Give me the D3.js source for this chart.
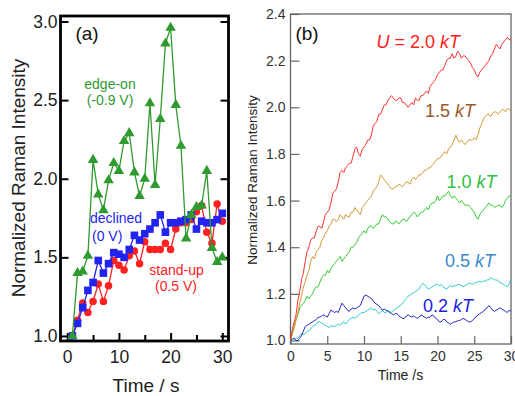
<!DOCTYPE html>
<html>
<head>
<meta charset="utf-8">
<script src="https://cdn.jsdelivr.net/npm/d3@7"></script>
<style>
  body { margin: 0; background: #fff; }
  svg { display: block; font-family: "Liberation Sans", Arial, sans-serif; }
</style>
</head>
<body>
<svg id="chart" width="515" height="396"></svg>
<script>
// ---- panel (a): measured points, one per second ----
const timeA = [1, 2, 3, 4, 5, 6, 7, 8, 9, 10, 11, 12, 13, 14, 15,
               16, 17, 18, 19, 20, 21, 22, 23, 24, 25, 26, 27, 28, 29, 30];
const edgeOn = [1.00, 1.40, 1.41, 1.51, 2.12, 1.90, 1.80, 1.99, 2.10, 2.05,
                2.24, 2.29, 2.04, 1.89, 2.00, 2.48, 1.96, 2.38, 2.86, 2.96,
                2.47, 2.21, 1.62, 1.77, 1.82, 1.83, 2.05, 1.56, 1.47, 1.50];
const declined = [1.00, 1.08, 1.18, 1.29, 1.34, 1.48, 1.40, 1.46, 1.53, 1.52,
                  1.50, 1.55, 1.64, 1.61, 1.65, 1.68, 1.72, 1.77, 1.66, 1.72,
                  1.72, 1.73, 1.74, 1.77, 1.68, 1.73, 1.72, 1.72, 1.74, 1.78];
const standUp = [1.00, 1.10, 1.21, 1.15, 1.22, 1.33, 1.22, 1.32, 1.48, 1.45,
                 1.42, 1.51, 1.54, 1.46, 1.60, 1.55, 1.55, 1.55, 1.59, 1.55,
                 1.68, 1.72, 1.72, 1.74, 1.79, 1.83, 1.66, 1.59, 1.84, 1.73];
const ticksAY = [1.0, 1.5, 2.0, 2.5, 3.0];
const ticksAX = [0, 10, 20, 30];
const minorAX = [5, 15, 25];

// ---- panel (b): simulated traces, read every 0.25 s (8 values = 2 s per row) ----
const timeB = d3.range(0, 30.001, 0.25);
const u20 = [1.00, 1.05, 1.08, 1.11, 1.17, 1.21, 1.26, 1.29,
             1.34, 1.38, 1.40, 1.43, 1.44, 1.44, 1.47, 1.49,
             1.49, 1.48, 1.51, 1.54, 1.55, 1.56, 1.59, 1.63,
             1.64, 1.65, 1.68, 1.72, 1.73, 1.72, 1.74, 1.75,
             1.76, 1.76, 1.79, 1.82, 1.83, 1.80, 1.79, 1.82,
             1.83, 1.84, 1.86, 1.86, 1.88, 1.92, 1.93, 1.94,
             1.97, 1.97, 1.99, 2.01, 2.01, 2.03, 2.04, 2.05,
             2.04, 2.03, 2.03, 2.04, 2.04, 2.02, 2.02, 2.01,
             2.00, 2.01, 2.02, 2.01, 2.04, 2.03, 2.03, 2.05,
             2.05, 2.06, 2.07, 2.06, 2.09, 2.10, 2.11, 2.12,
             2.14, 2.15, 2.16, 2.16, 2.18, 2.20, 2.21, 2.21,
             2.23, 2.21, 2.22, 2.24, 2.23, 2.21, 2.22, 2.22,
             2.21, 2.20, 2.19, 2.17, 2.16, 2.14, 2.13, 2.15,
             2.16, 2.17, 2.18, 2.19, 2.20, 2.22, 2.23, 2.25,
             2.27, 2.26, 2.25, 2.27, 2.28, 2.29, 2.30, 2.29,
             2.29];
const u15 = [1.00, 1.03, 1.05, 1.09, 1.12, 1.16, 1.19, 1.23,
             1.25, 1.28, 1.30, 1.34, 1.36, 1.35, 1.38, 1.39,
             1.40, 1.43, 1.44, 1.46, 1.47, 1.49, 1.50, 1.52,
             1.52, 1.51, 1.52, 1.54, 1.53, 1.52, 1.54, 1.53,
             1.53, 1.55, 1.55, 1.57, 1.56, 1.55, 1.54, 1.57,
             1.58, 1.59, 1.60, 1.61, 1.62, 1.64, 1.65, 1.66,
             1.68, 1.71, 1.70, 1.69, 1.68, 1.67, 1.66, 1.65,
             1.65, 1.66, 1.66, 1.67, 1.665, 1.66, 1.67, 1.68,
             1.68, 1.67, 1.69, 1.70, 1.69, 1.70, 1.71, 1.71,
             1.72, 1.73, 1.73, 1.74, 1.74, 1.75, 1.76, 1.77,
             1.78, 1.78, 1.79, 1.80, 1.81, 1.80, 1.82, 1.83,
             1.84, 1.86, 1.88, 1.86, 1.85, 1.86, 1.85, 1.84,
             1.85, 1.86, 1.86, 1.86, 1.87, 1.86, 1.88, 1.91,
             1.93, 1.95, 1.96, 1.97, 1.97, 1.96, 1.975, 1.98,
             1.98, 1.97, 1.98, 1.99, 1.99, 1.98, 1.995, 1.99,
             1.985];
const u10 = [1.00, 1.03, 1.06, 1.09, 1.11, 1.14, 1.15, 1.16,
             1.17, 1.19, 1.18, 1.19, 1.20, 1.22, 1.23, 1.23,
             1.25, 1.27, 1.28, 1.28, 1.30, 1.29, 1.31, 1.32,
             1.33, 1.34, 1.35, 1.36, 1.34, 1.35, 1.36, 1.37,
             1.38, 1.40, 1.40, 1.41, 1.42, 1.44, 1.45, 1.46,
             1.47, 1.46, 1.48, 1.49, 1.49, 1.48, 1.49, 1.50,
             1.50, 1.52, 1.54, 1.53, 1.53, 1.52, 1.51, 1.50,
             1.50, 1.51, 1.51, 1.50, 1.51, 1.52, 1.52, 1.51,
             1.52, 1.53, 1.54, 1.55, 1.545, 1.53, 1.54, 1.55,
             1.55, 1.56, 1.57, 1.56, 1.58, 1.59, 1.59, 1.60,
             1.62, 1.60, 1.61, 1.62, 1.62, 1.63, 1.64, 1.62,
             1.61, 1.62, 1.61, 1.60, 1.59, 1.60, 1.59, 1.58,
             1.58, 1.58, 1.57, 1.56, 1.55, 1.53, 1.52, 1.54,
             1.55, 1.56, 1.57, 1.58, 1.59, 1.58, 1.58, 1.57,
             1.575, 1.58, 1.58, 1.57, 1.58, 1.60, 1.61, 1.62,
             1.62];
const u05 = [1.00, 0.995, 1.00, 1.01, 1.01, 1.02, 1.03, 1.025,
             1.03, 1.04, 1.04, 1.05, 1.06, 1.065, 1.07, 1.08,
             1.08, 1.075, 1.07, 1.065, 1.06, 1.055, 1.065, 1.06,
             1.06, 1.065, 1.07, 1.065, 1.075, 1.08, 1.07, 1.08,
             1.09, 1.095, 1.10, 1.095, 1.10, 1.11, 1.115, 1.12,
             1.12, 1.125, 1.13, 1.135, 1.14, 1.13, 1.135, 1.125,
             1.115, 1.12, 1.13, 1.12, 1.12, 1.13, 1.125, 1.12,
             1.13, 1.135, 1.14, 1.145, 1.15, 1.16, 1.17, 1.18,
             1.19, 1.195, 1.20, 1.205, 1.21, 1.215, 1.22, 1.235,
             1.245, 1.24, 1.23, 1.22, 1.225, 1.23, 1.235, 1.24,
             1.24, 1.235, 1.24, 1.23, 1.225, 1.22, 1.23, 1.235,
             1.23, 1.235, 1.235, 1.24, 1.24, 1.235, 1.23, 1.235,
             1.24, 1.245, 1.245, 1.24, 1.245, 1.25, 1.25, 1.255,
             1.25, 1.255, 1.255, 1.26, 1.26, 1.27, 1.265, 1.26,
             1.26, 1.255, 1.25, 1.245, 1.24, 1.235, 1.23, 1.245,
             1.26];
const u02 = [1.00, 1.005, 1.01, 1.00, 1.00, 1.01, 1.02, 1.04,
             1.06, 1.065, 1.07, 1.075, 1.08, 1.085, 1.09, 1.10,
             1.10, 1.105, 1.11, 1.105, 1.10, 1.115, 1.13, 1.125,
             1.12, 1.125, 1.12, 1.14, 1.16, 1.15, 1.14, 1.13,
             1.125, 1.135, 1.14, 1.135, 1.14, 1.145, 1.15, 1.17,
             1.19, 1.195, 1.19, 1.185, 1.18, 1.17, 1.16, 1.155,
             1.15, 1.14, 1.13, 1.135, 1.13, 1.125, 1.12, 1.115,
             1.11, 1.115, 1.115, 1.105, 1.10, 1.095, 1.095, 1.105,
             1.11, 1.105, 1.10, 1.105, 1.10, 1.095, 1.10, 1.11,
             1.105, 1.10, 1.095, 1.10, 1.10, 1.11, 1.105, 1.095,
             1.09, 1.08, 1.08, 1.09, 1.09, 1.08, 1.075, 1.07,
             1.075, 1.08, 1.08, 1.085, 1.085, 1.09, 1.095, 1.09,
             1.085, 1.08, 1.08, 1.085, 1.095, 1.10, 1.11, 1.115,
             1.12, 1.125, 1.135, 1.14, 1.15, 1.14, 1.13, 1.125,
             1.13, 1.135, 1.14, 1.135, 1.13, 1.125, 1.12, 1.13,
             1.125];
const ticksBY = [1.0, 1.2, 1.4, 1.6, 1.8, 2.0, 2.2, 2.4];
const ticksBX = [0, 5, 10, 15, 20, 25, 30];

const svg = d3.select('#chart');

// ================= panel (a) =================
const xa = d3.scaleLinear().domain([-1.3, 31.2]).range([60.5, 228.5]);
const ya = d3.scaleLinear().domain([0.968, 3.035]).range([341, 16]);

const ga = svg.append('g');

ga.append('g')
    .attr('transform', 'translate(60.5,0)')
    .call(d3.axisLeft(ya).tickValues(ticksAY).tickFormat(d3.format('.1f'))
        .tickSize(-8).tickPadding(3))
    .call(g => g.select('.domain').remove())
    .call(g => g.selectAll('line').attr('stroke', '#000').attr('stroke-width', 2))
    .call(g => g.selectAll('text').attr('font-size', 17.5).attr('fill', '#222'));

ga.append('g')
    .attr('transform', 'translate(228.5,0)')
    .call(d3.axisRight(ya).tickValues(ticksAY).tickFormat('').tickSize(-8))
    .call(g => g.select('.domain').remove())
    .call(g => g.selectAll('line').attr('stroke', '#000').attr('stroke-width', 2));

ga.append('g')
    .attr('transform', 'translate(0,341)')
    .call(d3.axisBottom(xa).tickValues(ticksAX).tickSize(-8).tickPadding(10))
    .call(g => g.select('.domain').remove())
    .call(g => g.selectAll('line').attr('stroke', '#000').attr('stroke-width', 2))
    .call(g => g.selectAll('text').attr('font-size', 17.5).attr('fill', '#222'));

ga.append('g')
    .attr('transform', 'translate(0,341)')
    .call(d3.axisBottom(xa).tickValues(minorAX).tickFormat('').tickSize(-6))
    .call(g => g.select('.domain').remove())
    .call(g => g.selectAll('line').attr('stroke', '#000').attr('stroke-width', 2));

ga.append('rect')
    .attr('x', 60.5).attr('y', 16).attr('width', 168).attr('height', 325)
    .attr('fill', 'none').attr('stroke', '#000').attr('stroke-width', 2.8);

const seriesA = [
    { values: standUp, color: '#ff2020', symbol: d3.symbolCircle, size: 44 },
    { values: declined, color: '#2323f0', symbol: d3.symbolSquare, size: 58 },
    { values: edgeOn, color: '#2f9a2f', symbol: d3.symbolTriangle, size: 48 }
];

const lineA = d3.line().x((d, i) => xa(timeA[i])).y(d => ya(d));

seriesA.forEach(s => {
    ga.append('path')
        .attr('d', lineA(s.values))
        .attr('fill', 'none')
        .attr('stroke', s.color)
        .attr('stroke-width', 1.3);
    ga.selectAll(null)
        .data(s.values)
        .enter()
        .append('path')
        .attr('d', d3.symbol().type(s.symbol).size(s.size))
        .attr('transform', (d, i) => `translate(${xa(timeA[i])},${ya(d)})`)
        .attr('fill', s.color);
});

const labelsA = [
    { text: 'edge-on', x: 110, y: 89, color: '#2f9a2f', anchor: 'middle' },
    { text: '(-0.9 V)', x: 110, y: 105, color: '#2f9a2f', anchor: 'middle' },
    { text: 'declined', x: 90, y: 223, color: '#2323f0', anchor: 'start' },
    { text: '(0 V)', x: 92, y: 241, color: '#2323f0', anchor: 'start' },
    { text: 'stand-up', x: 176.5, y: 275, color: '#ff2020', anchor: 'middle' },
    { text: '(0.5 V)', x: 176, y: 291, color: '#ff2020', anchor: 'middle' }
];
ga.selectAll(null)
    .data(labelsA)
    .enter()
    .append('text')
    .attr('x', d => d.x).attr('y', d => d.y)
    .attr('text-anchor', d => d.anchor)
    .attr('font-size', 14)
    .attr('fill', d => d.color)
    .text(d => d.text);

ga.append('text')
    .attr('x', 87).attr('y', 40)
    .attr('text-anchor', 'middle')
    .attr('font-size', 19)
    .attr('fill', '#111')
    .text('(a)');

ga.append('text')
    .attr('transform', 'translate(25,178) rotate(-90)')
    .attr('text-anchor', 'middle')
    .attr('font-size', 19)
    .attr('fill', '#222')
    .text('Normalized Raman Intensity');

ga.append('text')
    .attr('x', 146).attr('y', 392)
    .attr('text-anchor', 'middle')
    .attr('font-size', 19)
    .attr('fill', '#222')
    .text('Time / s');

// ================= panel (b) =================
const xb = d3.scaleLinear().domain([0, 30]).range([290.5, 511]);
const yb = d3.scaleLinear().domain([0.985, 2.4]).range([344, 14]);

const gb = svg.append('g');

gb.append('g')
    .attr('transform', 'translate(290.5,0)')
    .call(d3.axisLeft(yb).tickValues(ticksBY).tickFormat(d3.format('.1f'))
        .tickSize(-9).tickPadding(5))
    .call(g => g.select('.domain').remove())
    .call(g => g.selectAll('line').attr('stroke', '#666').attr('stroke-width', 1.2))
    .call(g => g.selectAll('text').attr('font-size', 14).attr('fill', '#333'));

gb.append('g')
    .attr('transform', 'translate(0,344)')
    .call(d3.axisBottom(xb).tickValues(ticksBX).tickSize(-8).tickPadding(7))
    .call(g => g.select('.domain').remove())
    .call(g => g.selectAll('line').attr('stroke', '#666').attr('stroke-width', 1.2))
    .call(g => g.selectAll('text').attr('font-size', 14).attr('fill', '#333'));

gb.append('rect')
    .attr('x', 290.5).attr('y', 14).attr('width', 220.5).attr('height', 330)
    .attr('fill', 'none').attr('stroke', '#666').attr('stroke-width', 1.3);

const seriesB = [
    { values: u05, color: '#33cccc' },
    { values: u02, color: '#2626c0' },
    { values: u10, color: '#33cc33' },
    { values: u15, color: '#d19a35' },
    { values: u20, color: '#ff3333' }
];
const lineB = d3.line().x((d, i) => xb(timeB[i])).y(d => yb(d));

seriesB.forEach(s => {
    gb.append('path')
        .attr('d', lineB(s.values))
        .attr('fill', 'none')
        .attr('stroke', s.color)
        .attr('stroke-width', 1);
});

const labelsB = [
    { num: ' = 2.0 ', lead: 'U', x: 376.5, y: 48, color: '#ff2020' },
    { num: '1.5 ', lead: '', x: 425, y: 116.5, color: '#9a5a2a' },
    { num: '1.0 ', lead: '', x: 446.5, y: 188, color: '#2ec040' },
    { num: '0.5 ', lead: '', x: 445, y: 266.5, color: '#3a88cc' },
    { num: '0.2 ', lead: '', x: 423, y: 311.5, color: '#2222dd' }
];
labelsB.forEach(d => {
    const t = gb.append('text')
        .attr('x', d.x).attr('y', d.y)
        .attr('font-size', 18)
        .attr('fill', d.color);
    if (d.lead) t.append('tspan').attr('font-style', 'italic').text(d.lead);
    t.append('tspan').text(d.num);
    t.append('tspan').attr('font-style', 'italic').text('kT');
});

gb.append('text')
    .attr('x', 307).attr('y', 40)
    .attr('text-anchor', 'middle')
    .attr('font-size', 19)
    .attr('fill', '#111')
    .text('(b)');

gb.append('text')
    .attr('transform', 'translate(257,180) rotate(-90)')
    .attr('text-anchor', 'middle')
    .attr('font-size', 13.5)
    .attr('fill', '#222')
    .text('Normalized Raman Intensity');

gb.append('text')
    .attr('x', 400.5).attr('y', 380)
    .attr('text-anchor', 'middle')
    .attr('font-size', 14)
    .attr('fill', '#222')
    .text('Time /s');
</script>
</body>
</html>
